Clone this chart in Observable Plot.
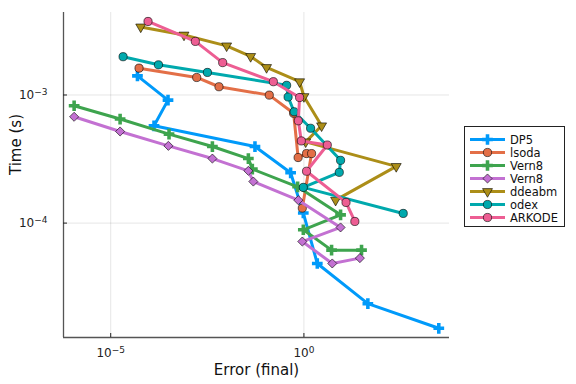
<!DOCTYPE html>
<html><head><meta charset="utf-8">
<script src="https://cdn.jsdelivr.net/npm/d3@7"></script>
<script src="https://cdn.jsdelivr.net/npm/@observablehq/plot@0.6"></script>
<style>body{margin:0;background:#fff}#chart{position:relative;width:576px;height:384px}</style>
</head><body><div id="chart"></div>
<script>
const seriesNames = ["DP5","lsoda","Vern8","Vern8","ddeabm","odex","ARKODE"];
const colors = ["#009AFA","#E36F47","#3EA44E","#C371D2","#AC8E18","#00A9AD","#ED5E93"];
const symbols = ["cross","circle","cross","diamond2","triangle","circle","circle"];

const dp5Error = [4.92e-5, 3.04e-4, 1.32e-4, 0.0541, 0.453, 0.964, 2.22, 45.2, 3097];
const dp5Time  = [1.41e-3, 9.12e-4, 5.75e-4, 3.96e-4, 2.47e-4, 1.20e-4, 4.84e-5, 2.35e-5, 1.51e-5];

const lsodaError = [5.41e-5, 1.68e-3, 6.34e-3, 0.127, 0.542, 0.708, 1.17, 1.58, 0.909];
const lsodaTime  = [1.62e-3, 1.37e-3, 1.16e-3, 9.98e-4, 7.20e-4, 3.25e-4, 3.49e-4, 3.49e-4, 1.31e-4];

const vern8aError = [1.13e-6, 1.75e-5, 3.23e-4, 4.28e-3, 0.0365, 0.0463, 0.687, 8.89, 0.965, 5.20, 31.0];
const vern8aTime  = [8.24e-4, 6.49e-4, 4.95e-4, 3.96e-4, 3.19e-4, 2.64e-4, 1.92e-4, 1.16e-4, 8.87e-5, 6.15e-5, 6.15e-5];

const vern8bError = [1.13e-6, 1.75e-5, 3.11e-4, 4.28e-3, 0.0365, 0.0491, 0.717, 8.89, 0.909, 5.42, 28.1];
const vern8bTime  = [6.76e-4, 5.19e-4, 4.01e-4, 3.19e-4, 2.56e-4, 2.11e-4, 1.51e-4, 9.25e-5, 7.18e-5, 4.84e-5, 5.33e-5];

const ddeabmError = [5.98e-5, 7.88e-4, 0.010, 0.0418, 0.108, 0.774, 1.0, 2.87, 1.11, 245, 6.61];
const ddeabmTime  = [3.40e-3, 2.94e-3, 2.42e-3, 2.00e-3, 1.64e-3, 1.27e-3, 9.73e-4, 5.75e-4, 4.31e-4, 2.77e-4, 1.51e-4];

const odexError = [2.09e-5, 1.72e-4, 3.18e-3, 0.357, 0.390, 0.558, 1.49, 8.89, 8.23, 0.965, 372];
const odexTime  = [1.99e-3, 1.72e-3, 1.50e-3, 1.19e-3, 9.65e-4, 7.40e-4, 5.50e-4, 3.09e-4, 2.49e-4, 1.90e-4, 1.19e-4];

const arkodeError = [9.24e-5, 1.55e-3, 7.90e-3, 0.162, 0.774, 0.717, 0.857, 4.03, 1.17, 12.3, 20.8];
const arkodeTime  = [3.75e-3, 2.62e-3, 1.79e-3, 1.27e-3, 9.56e-4, 6.29e-4, 4.38e-4, 4.07e-4, 2.54e-4, 1.45e-4, 1.03e-4];

const xTicks = [1e-5, 1];
const xTickLabels = ["10^\u22125", "10^0"];
const yTicks = [1e-4, 1e-3];
const yTickLabels = ["10^\u22124", "10^\u22123"];
const xLabel = "Error (final)";
const yLabel = "Time (s)";

const errorSets = [dp5Error, lsodaError, vern8aError, vern8bError, ddeabmError, odexError, arkodeError];
const timeSets = [dp5Time, lsodaTime, vern8aTime, vern8bTime, ddeabmTime, odexTime, arkodeTime];

const xDomain = [10 ** -6.222, 10 ** 3.768];
const yDomain = [10 ** -4.893, 10 ** -2.356];

function symR(sym) { return sym === "cross" ? 4.5 : (sym === "triangle" ? 3.7 : 4.1); }

const seriesMarks = [];
errorSets.forEach((errs, s) => {
  const rows = errs.map((e, i) => ({error: e, time: timeSets[s][i]}));
  seriesMarks.push(Plot.line(rows, {x: "error", y: "time", stroke: colors[s], strokeWidth: 3, curve: "linear"}));
  const sym = symbols[s];
  const isCross = sym === "cross";
  seriesMarks.push(Plot.dot(rows, {
    x: "error", y: "time", symbol: () => sym,
    r: symR(sym),
    fill: colors[s],
    stroke: isCross ? "none" : "#000",
    strokeWidth: 0.6,
    rotate: sym === "triangle" ? 180 : 0
  }));
});

const chart = Plot.plot({
  width: 576, height: 384,
  marginLeft: 63, marginRight: 127, marginTop: 12, marginBottom: 47,
  style: {fontFamily: "DejaVu Sans, sans-serif", fontSize: "12px", background: "#fff", overflow: "visible"},
  x: {type: "log", domain: xDomain},
  y: {type: "log", domain: yDomain},
  symbol: {type: "identity"},
  marks: [
    Plot.gridX(xTicks, {stroke: "#000", strokeOpacity: 0.1, strokeWidth: 1}),
    Plot.gridY(yTicks, {stroke: "#000", strokeOpacity: 0.1, strokeWidth: 1}),
    ...seriesMarks,
    Plot.ruleX([xDomain[0]], {stroke: "#555", strokeWidth: 1.3}),
    Plot.ruleY([yDomain[0]], {stroke: "#555", strokeWidth: 1.3}),
    Plot.axisX(xTicks, {tickSize: 0, tickPadding: 11, tickFormat: (d) => xTickLabels[xTicks.indexOf(d)], fontSize: 12, label: null, color: "#222"}),
    Plot.axisY(yTicks, {tickSize: 0, tickPadding: 16, tickFormat: (d) => yTickLabels[yTicks.indexOf(d)], fontSize: 12, label: null, color: "#222"}),
    Plot.axisX(xTicks, {tickSize: -4, tickFormat: () => "", label: null, stroke: "#222"}),
    Plot.axisY(yTicks, {tickSize: -4, tickFormat: () => "", label: null, stroke: "#222"}),
    Plot.text([xLabel], {frameAnchor: "bottom", dy: 37, fontSize: 15, fill: "#111"}),
    Plot.text([yLabel], {frameAnchor: "left", dx: -47, rotate: -90, fontSize: 15, fill: "#111"})
  ]
});

document.getElementById("chart").appendChild(chart);

// render tick labels as base + superscript
d3.select(chart).selectAll("text").each(function () {
  const t = this.textContent;
  if (!/^10\^/.test(t)) return;
  const [base, exp] = t.split("^");
  const el = d3.select(this);
  el.text(null);
  el.append("tspan").attr("font-size", "12px").text(base);
  el.append("tspan").attr("dy", "-0.45em").attr("font-size", "9px").text(exp);
});

// legend
const svg = d3.select(chart);
const lg = svg.append("g").attr("font-family", "DejaVu Sans, sans-serif").attr("font-size", 11.5).attr("text-anchor", "start");
lg.append("rect").attr("x", 464.5).attr("y", 126.5).attr("width", 100).attr("height", 100)
  .attr("fill", "#fff").attr("stroke", "#222").attr("stroke-width", 1);
const symMap = {cross: d3.symbolCross, circle: d3.symbolCircle, diamond2: d3.symbolDiamond2, triangle: d3.symbolTriangle};
seriesNames.forEach((name, s) => {
  const yy = 139.5 + s * 13;
  lg.append("line").attr("x1", 470).attr("x2", 505).attr("y1", yy).attr("y2", yy)
    .attr("stroke", colors[s]).attr("stroke-width", 3);
  const sym = symbols[s];
  const r = symR(sym);
  lg.append("path").attr("d", d3.symbol(symMap[sym], Math.PI * r * r)())
    .attr("transform", `translate(487.5,${yy})` + (sym === "triangle" ? " rotate(180)" : ""))
    .attr("fill", colors[s]).attr("stroke", sym === "cross" ? "none" : "#000").attr("stroke-width", 0.6);
  lg.append("text").attr("x", 510).attr("y", yy).attr("dy", "0.35em").attr("fill", "#111").text(name);
});
</script>
</body></html>
